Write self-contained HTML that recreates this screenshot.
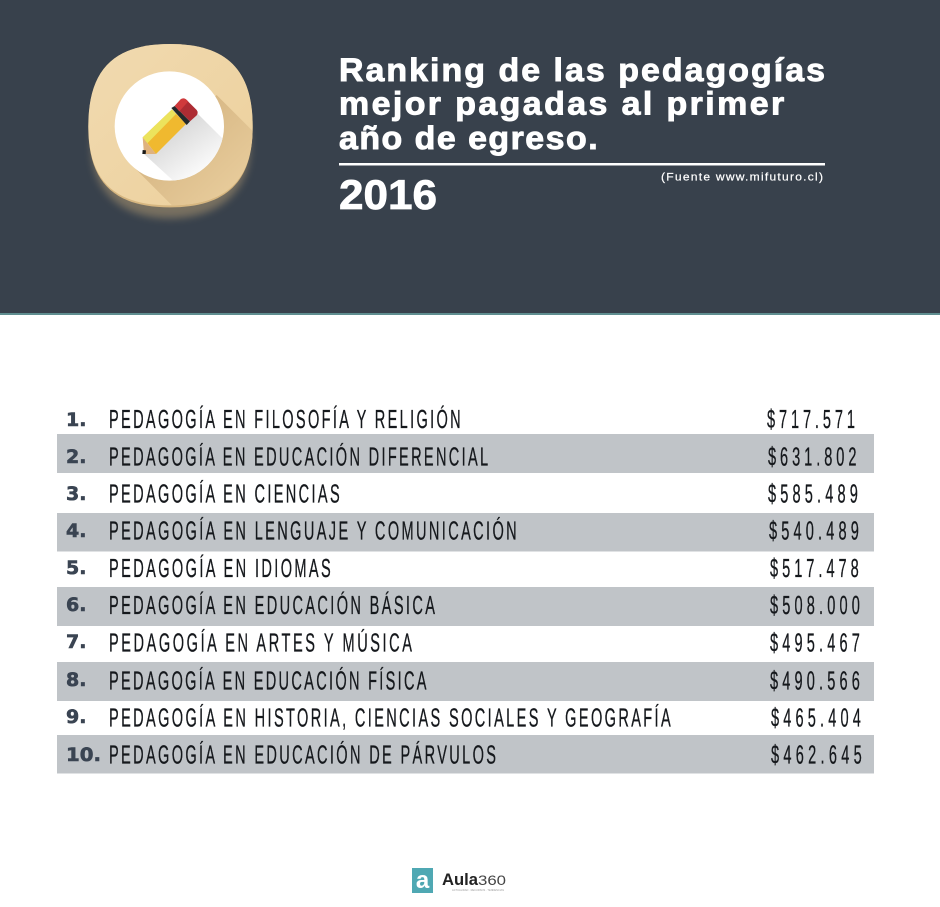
<!DOCTYPE html>
<html lang="es">
<head>
<meta charset="utf-8">
<title>Ranking de las pedagogías mejor pagadas</title>
<style>
html,body{margin:0;padding:0;background:#fff;width:940px;height:907px;overflow:hidden}
svg{display:block}
.ttl{font-family:"Liberation Sans",sans-serif;font-weight:700;fill:#fff;font-size:32px;stroke:#fff;stroke-width:.9px}
.n{font-family:"DejaVu Sans",sans-serif;font-weight:700;fill:#3a4452;font-size:19px;stroke:#3a4452;stroke-width:.6px}
.t{font-family:"Liberation Sans",sans-serif;fill:#15181c;font-size:26px;stroke:#15181c;stroke-width:.3px}
</style>
</head>
<body>
<svg width="940" height="907" viewBox="0 0 940 907" xmlns="http://www.w3.org/2000/svg">
<defs>
<linearGradient id="tan" x1="0" y1="0" x2="1" y2="1"><stop offset="0" stop-color="#f1dab0"/><stop offset="1" stop-color="#ecd09c"/></linearGradient>
<linearGradient id="ls" x1="0.25" y1="0.25" x2="0.85" y2="0.85"><stop offset="0" stop-color="#d6b683"/><stop offset="1" stop-color="#ebd0a0"/></linearGradient>
<linearGradient id="ps" x1="0.25" y1="0.2" x2="0.75" y2="0.8"><stop offset="0" stop-color="#d6d6d6"/><stop offset="1" stop-color="#ffffff"/></linearGradient>
<filter id="glow" x="-30%" y="-30%" width="160%" height="160%"><feGaussianBlur stdDeviation="12"/></filter>
<clipPath id="sq"><path d="M330 72C500 72 578 150 578 318C578 480 500 556 330 556C160 556 85 480 85 318C85 150 160 72 330 72Z"/></clipPath>
<clipPath id="ci"><circle cx="328" cy="318" r="164"/></clipPath>
</defs>

<rect x="0" y="0" width="940" height="314" fill="#38414c"/>
<rect x="0" y="313" width="940" height="2" fill="#5f8e90"/>

<g transform="translate(60 20) scale(.33333)">
<path d="M330 200C480 200 570 260 570 380C570 520 470 595 330 595C190 595 95 520 95 380C95 260 180 200 330 200Z" fill="#b89f74" opacity=".5" filter="url(#glow)"/>
<path d="M330 72C500 72 578 150 578 322C578 484 500 562 330 562C160 562 85 484 85 322C85 150 160 72 330 72Z" fill="#d6b680"/>
<path d="M330 72C500 72 578 150 578 318C578 480 500 556 330 556C160 556 85 480 85 318C85 150 160 72 330 72Z" fill="url(#tan)"/>
<g clip-path="url(#sq)"><polygon points="470,225 620,375 620,620 400,620 215,435" fill="url(#ls)"/></g>
<circle cx="328" cy="318" r="164" fill="#fff"/>
<g clip-path="url(#ci)"><polygon points="412,280 520,388 400,510 370,510 250,400" fill="url(#ps)"/></g>
<polygon points="248,352 336,268 378,312 288,402" fill="#f0b92f"/>
<polygon points="248,352 336,268 348,282 260,372" fill="#ece35c"/>
<polygon points="248,352 288,402 252,402" fill="#dfb27e"/>
<polygon points="248,390 258,391 257,402 247,402" fill="#1a1a1a"/>
<polygon points="334,264 344,258 390,304 380,315" fill="#23292b"/>
<path d="M344 258L362 238Q370 232 378 238L410 270Q416 278 410 286L390 304Z" fill="#ad2c33"/>
<path d="M344 258L362 238Q370 232 378 238L385 244L358 274Z" fill="#cf3a3c"/>
</g>

<text class="ttl" transform="translate(339 81) scale(1.06 1)" textLength="458.500" lengthAdjust="spacing">Ranking de las pedagogías</text>
<text class="ttl" transform="translate(339 114.500) scale(1.06 1)" textLength="420" lengthAdjust="spacing">mejor pagadas al primer</text>
<text class="ttl" transform="translate(339 149) scale(1.06 1)" textLength="244" lengthAdjust="spacing">año de egreso.</text>
<rect x="339" y="163" width="486" height="2.500" fill="#fff"/>
<text transform="translate(661 180.500) scale(1.1 1)" font-family="'Liberation Sans',sans-serif" font-size="11" fill="#fff" stroke="#fff" stroke-width=".2" textLength="147.300" lengthAdjust="spacing">(Fuente www.mifuturo.cl)</text>
<text x="339" y="209" font-family="'Liberation Sans',sans-serif" font-weight="700" font-size="42" fill="#fff" stroke="#fff" stroke-width=".8" textLength="98" lengthAdjust="spacingAndGlyphs">2016</text>

<g fill="#c0c4c8">
<rect x="57" y="434" width="817" height="39"/>
<rect x="57" y="513" width="817" height="38.500"/>
<rect x="57" y="587" width="817" height="39"/>
<rect x="57" y="662" width="817" height="39"/>
<rect x="57" y="735" width="817" height="38.500"/>
</g>

<g>
<text class="n" x="66" y="426">1.</text>
<text class="t" transform="translate(109 428) scale(.56 1)" textLength="628" lengthAdjust="spacing">PEDAGOGÍA EN FILOSOFÍA Y RELIGIÓN</text>
<text class="t" transform="translate(767 428) scale(.56 1)" textLength="157" lengthAdjust="spacing">$717.571</text>
</g>
<g>
<text class="n" x="66" y="463">2.</text>
<text class="t" transform="translate(109 465.500) scale(.56 1)" textLength="677" lengthAdjust="spacing">PEDAGOGÍA EN EDUCACIÓN DIFERENCIAL</text>
<text class="t" transform="translate(768 465.500) scale(.56 1)" textLength="158" lengthAdjust="spacing">$631.802</text>
</g>
<g>
<text class="n" x="66" y="500">3.</text>
<text class="t" transform="translate(109 502.500) scale(.56 1)" textLength="412" lengthAdjust="spacing">PEDAGOGÍA EN CIENCIAS</text>
<text class="t" transform="translate(768 502.500) scale(.56 1)" textLength="160.500" lengthAdjust="spacing">$585.489</text>
</g>
<g>
<text class="n" x="66" y="537">4.</text>
<text class="t" transform="translate(109 539.500) scale(.56 1)" textLength="728" lengthAdjust="spacing">PEDAGOGÍA EN LENGUAJE Y COMUNICACIÓN</text>
<text class="t" transform="translate(769 539.500) scale(.56 1)" textLength="160.500" lengthAdjust="spacing">$540.489</text>
</g>
<g>
<text class="n" x="66" y="574">5.</text>
<text class="t" transform="translate(109 577) scale(.56 1)" textLength="396" lengthAdjust="spacing">PEDAGOGÍA EN IDIOMAS</text>
<text class="t" transform="translate(770 577) scale(.56 1)" textLength="158.500" lengthAdjust="spacing">$517.478</text>
</g>
<g>
<text class="n" x="66" y="611">6.</text>
<text class="t" transform="translate(109 614) scale(.56 1)" textLength="582" lengthAdjust="spacing">PEDAGOGÍA EN EDUCACIÓN BÁSICA</text>
<text class="t" transform="translate(770 614) scale(.56 1)" textLength="160.500" lengthAdjust="spacing">$508.000</text>
</g>
<g>
<text class="n" x="66" y="648">7.</text>
<text class="t" transform="translate(109 651.500) scale(.56 1)" textLength="541" lengthAdjust="spacing">PEDAGOGÍA EN ARTES Y MÚSICA</text>
<text class="t" transform="translate(770 651.500) scale(.56 1)" textLength="160.500" lengthAdjust="spacing">$495.467</text>
</g>
<g>
<text class="n" x="66" y="686">8.</text>
<text class="t" transform="translate(109 689.500) scale(.56 1)" textLength="567" lengthAdjust="spacing">PEDAGOGÍA EN EDUCACIÓN FÍSICA</text>
<text class="t" transform="translate(770 689.500) scale(.56 1)" textLength="160.500" lengthAdjust="spacing">$490.566</text>
</g>
<g>
<text class="n" x="66" y="723">9.</text>
<text class="t" transform="translate(109 726.500) scale(.56 1)" textLength="1003" lengthAdjust="spacing">PEDAGOGÍA EN HISTORIA, CIENCIAS SOCIALES Y GEOGRAFÍA</text>
<text class="t" transform="translate(771 726.500) scale(.56 1)" textLength="160.500" lengthAdjust="spacing">$465.404</text>
</g>
<g>
<text class="n" x="66" y="761" textLength="35" lengthAdjust="spacingAndGlyphs">10.</text>
<text class="t" transform="translate(109 763.500) scale(.56 1)" textLength="691" lengthAdjust="spacing">PEDAGOGÍA EN EDUCACIÓN DE PÁRVULOS</text>
<text class="t" transform="translate(771 763.500) scale(.56 1)" textLength="162" lengthAdjust="spacing">$462.645</text>
</g>

<g>
<rect x="412" y="868" width="21" height="25" fill="#4fa8b3"/>
<text x="422.500" y="888" text-anchor="middle" font-family="'Liberation Sans',sans-serif" font-weight="700" font-size="24" fill="#fff">a</text>
<text x="442" y="885" font-family="'Liberation Sans',sans-serif" font-weight="700" font-size="17" fill="#222" textLength="36" lengthAdjust="spacingAndGlyphs">Aula</text>
<text x="478" y="885" font-family="'Liberation Sans',sans-serif" font-size="14" fill="#444" textLength="28" lengthAdjust="spacingAndGlyphs">360</text>
<text x="452" y="891" font-family="'Liberation Sans',sans-serif" font-size="3" fill="#999" textLength="52" lengthAdjust="spacingAndGlyphs">ACTUALIDAD · RECURSOS · TENDENCIAS</text>
</g>
</svg>
</body>
</html>
